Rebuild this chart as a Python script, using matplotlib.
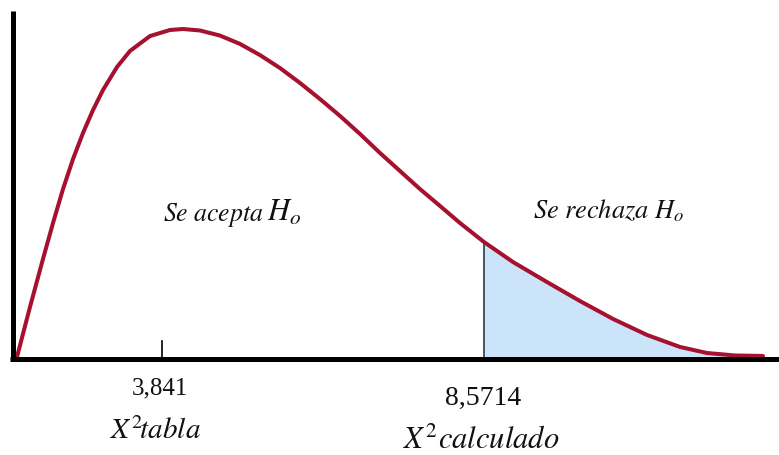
import matplotlib
matplotlib.use("Agg")
import matplotlib.pyplot as plt
import numpy as np

# Curve (chi-square style density, schematic)
curve_x = [1.753, 1.943, 2.133, 2.279, 2.425, 2.571, 2.717, 2.863, 3.009, 3.213,
           3.403, 3.695, 3.987, 4.177, 4.425, 4.717, 5.009, 5.301, 5.593, 5.885,
           6.177, 6.469, 6.761, 7.053, 7.345, 7.637, 7.929, 8.221, 8.5714, 8.995,
           9.491, 9.973, 10.455, 10.952, 11.433, 11.828, 12.236, 12.645]
curve_y = [0.0, 0.0305, 0.0598, 0.0817, 0.1024, 0.1207, 0.1366, 0.1506, 0.1628, 0.1768,
           0.1866, 0.1957, 0.1994, 0.2000, 0.1991, 0.1960, 0.1909, 0.1841, 0.1762, 0.1671,
           0.1573, 0.1470, 0.1360, 0.1244, 0.1134, 0.1024, 0.0921, 0.0817, 0.0701, 0.0579,
           0.0457, 0.0341, 0.0232, 0.0134, 0.0061, 0.0024, 0.0009, 0.0006]

chi_tabla = 3.841
chi_calc = 8.5714
tabla_label = "3,841"
calc_label = "8,5714"

plt.rcParams["mathtext.fontset"] = "stix"

fig = plt.figure(figsize=(7.79, 4.56), dpi=100)
ax = fig.add_axes([0, 0, 1, 1])
ax.set_xlim(1.505, 12.879)
ax.set_ylim(-0.0598, 0.2183)
ax.axis("off")

cx = np.array(curve_x)
cy = np.array(curve_y)

# rejection region
mask = cx >= chi_calc
ax.fill_between(cx[mask], 0, cy[mask], color="#cce4fa", lw=0, zorder=1)
ycalc = cy[np.argmin(np.abs(cx - chi_calc))]
ax.plot([chi_calc, chi_calc], [0, ycalc], color="#34495e", lw=1.3, zorder=2)

# curve
ax.plot(cx, cy, color="#a5112f", lw=2.9, solid_joinstyle="round",
        solid_capstyle="round", antialiased=True, zorder=3)

# axes lines
ax.plot([1.688, 1.688], [-0.0012, 0.211], color="black", lw=3.6,
        solid_capstyle="butt", zorder=4)
ax.plot([1.65, 12.879], [-0.0012, -0.0012], color="black", lw=3.6,
        solid_capstyle="butt", zorder=4)
# tick at chi_tabla
ax.plot([chi_tabla + 0.03, chi_tabla + 0.03], [0, 0.0098], color="black", lw=1.2, zorder=4)

serif = ["Liberation Serif", "DejaVu Serif"]
ink = "#111111"
ax.text(chi_tabla, -0.0189, tabla_label, ha="center", va="center",
        fontsize=18, family=serif, color=ink)
ax.text(chi_tabla - 0.07, -0.0445, r"$X^{2}\!\mathit{tabla}$", ha="center", va="center",
        fontsize=21, color=ink)
ax.text(chi_calc - 0.02, -0.0244, calc_label, ha="center", va="center",
        fontsize=20, family=serif, color=ink)
ax.text(chi_calc - 0.04, -0.050, r"$X^{2}calculado$", ha="center", va="center",
        fontsize=22, color=ink)

ax.text(3.885, 0.0835, r"$\mathit{Se\ acepta}$", ha="left", va="baseline",
        fontsize=18.5, color=ink)
ax.text(5.40, 0.0835, r"$\mathit{H}_{o}$", ha="left", va="baseline",
        fontsize=22, color=ink)
ax.text(9.287, 0.0854, r"$\mathit{Se\ rechaza}\ \mathit{H}_{o}$", ha="left", va="baseline",
        fontsize=19, color=ink)

fig.savefig("out.png", dpi=100)
